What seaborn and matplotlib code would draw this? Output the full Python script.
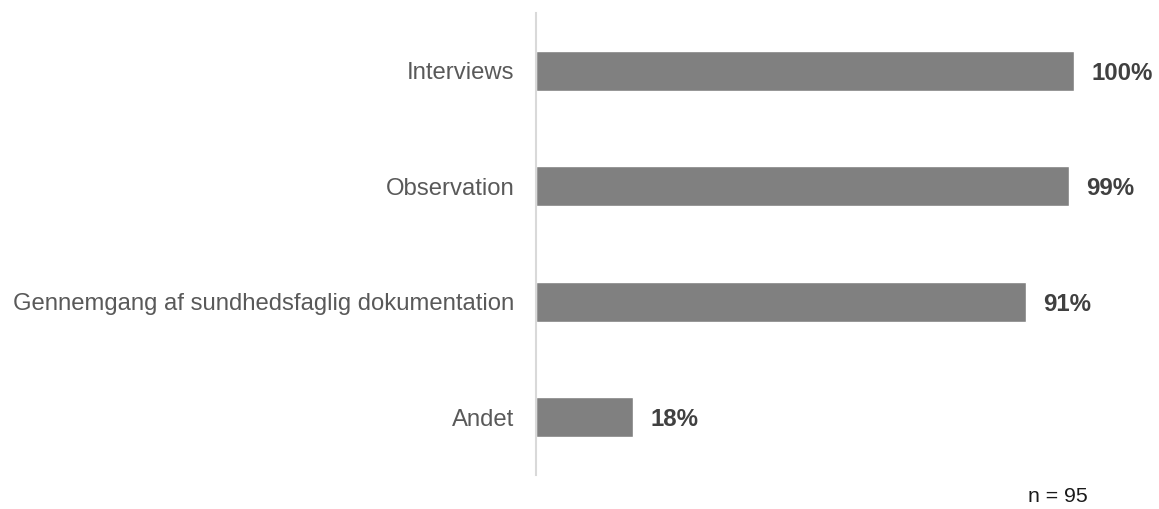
import matplotlib
matplotlib.use("Agg")
import matplotlib.pyplot as plt
import seaborn as sns
import pandas as pd

categories = ["Interviews", "Observation", "Gennemgang af sundhedsfaglig dokumentation", "Andet"]
values = [100, 99, 91, 18]
value_labels = ["100%", "99%", "91%", "18%"]
n_note = "n = 95"

sns.set_theme(style="white")
plt.rcParams["font.family"] = ["Liberation Sans", "DejaVu Sans"]

df = pd.DataFrame({"category": categories, "value": values})

fig = plt.figure(figsize=(11.59, 5.09), dpi=100)
ax = fig.add_axes([0.4625, 0.0668, 0.9267 - 0.4625, 0.9745 - 0.0668])

sns.barplot(data=df, y="category", x="value", orient="h", color="#808080",
            width=0.35, saturation=1, ax=ax)

ax.set_xlim(0, 100)
ax.set_ylim(3.5, -0.5)
ax.set_xlabel("")
ax.set_ylabel("")
ax.set_xticks([])
ax.tick_params(axis="y", length=0, pad=15.5, labelsize=17.2, labelcolor="#595959")

for side in ["top", "right", "bottom"]:
    ax.spines[side].set_visible(False)
ax.spines["left"].set_color("#d9d9d9")
ax.spines["left"].set_linewidth(1.5)

for i, (v, lab) in enumerate(zip(values, value_labels)):
    ax.annotate(lab, xy=(v, i), xytext=(12.5, 0), textcoords="offset points",
                va="center_baseline", ha="left", fontsize=17.3, fontweight="bold",
                color="#404040", annotation_clip=False)

fig.text(1028 / 1159, 1 - 497 / 509, n_note, ha="left", va="center",
         fontsize=15.3, color="#1a1a1a")

fig.savefig("out.png", dpi=100)
